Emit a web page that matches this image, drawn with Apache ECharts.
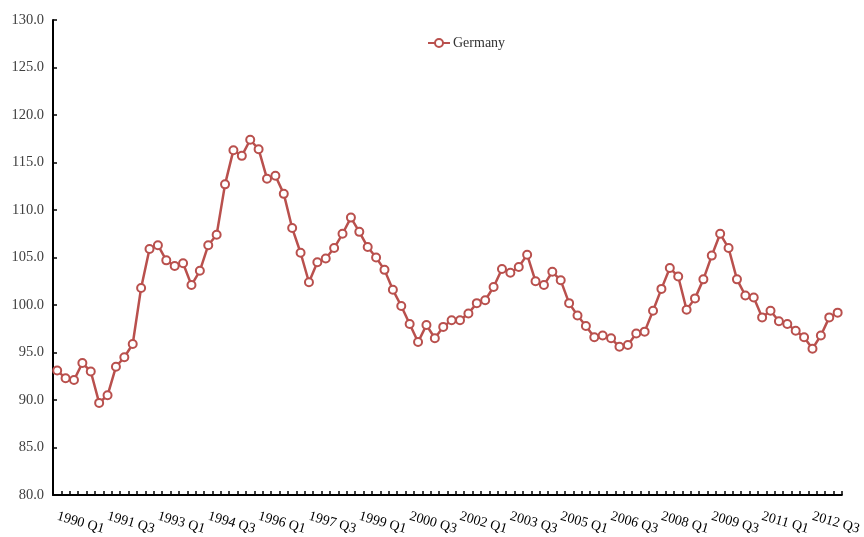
<!DOCTYPE html>
<html>
<head>
<meta charset="utf-8">
<script src="https://cdn.jsdelivr.net/npm/echarts@6/dist/echarts.min.js"></script>
<style>
  html, body { margin: 0; padding: 0; background: #ffffff; }
  #chart { width: 864px; height: 537px; }
</style>
</head>
<body>
<div id="chart"></div>
<script>
// Quarterly categories, 1990 Q1 onwards
const firstYear = 1990;
const quarterCount = 94;
const quarters = [];
for (let i = 0; i < quarterCount; i++) {
  quarters.push((firstYear + Math.floor(i / 4)) + ' Q' + (i % 4 + 1));
}

// Index values for Germany, one per quarter
const germany = [
  93.1, 92.3, 92.1, 93.9, 93.0, 89.7, 90.5, 93.5, 94.5, 95.9,
  101.8, 105.9, 106.3, 104.7, 104.1, 104.4, 102.1, 103.6, 106.3, 107.4,
  112.7, 116.3, 115.7, 117.4, 116.4, 113.3, 113.6, 111.7, 108.1, 105.5,
  102.4, 104.5, 104.9, 106.0, 107.5, 109.2, 107.7, 106.1, 105.0, 103.7,
  101.6, 99.9, 98.0, 96.1, 97.9, 96.5, 97.7, 98.4, 98.4, 99.1,
  100.2, 100.5, 101.9, 103.8, 103.4, 104.0, 105.3, 102.5, 102.1, 103.5,
  102.6, 100.2, 98.9, 97.8, 96.6, 96.8, 96.5, 95.6, 95.8, 97.0,
  97.2, 99.4, 101.7, 103.9, 103.0, 99.5, 100.7, 102.7, 105.2, 107.5,
  106.0, 102.7, 101.0, 100.8, 98.7, 99.4, 98.3, 98.0, 97.3, 96.6,
  95.4, 96.8, 98.7, 99.2
];

// Value axis range and step
const yMin = 80;
const yMax = 130;
const yStep = 5;

const seriesName = 'Germany';
const lineColor = '#b9504d';
const serif = '"Liberation Serif", "Times New Roman", serif';

const chart = echarts.init(document.getElementById('chart'), null, { renderer: 'canvas' });

chart.setOption({
  animation: false,
  backgroundColor: '#ffffff',
  grid: { left: 53, right: 18, top: 20, bottom: 41, containLabel: false },
  legend: {
    data: [seriesName],
    left: 422,
    top: 31,
    itemWidth: 22,
    itemHeight: 10,
    itemGap: 4,
    textStyle: { fontFamily: serif, fontSize: 14, color: '#333333', padding: [0, 0, 0, -2] }
  },
  xAxis: {
    type: 'category',
    data: quarters,
    boundaryGap: true,
    axisLine: { lineStyle: { color: '#000000', width: 2 } },
    axisTick: { show: true, inside: true, length: 4, interval: 0, lineStyle: { color: '#000000', width: 1.5 } },
    axisLabel: {
      interval: 5,
      rotate: -16,
      margin: 21,
      fontFamily: serif,
      fontSize: 14,
      color: '#000000'
    },
    splitLine: { show: false }
  },
  yAxis: {
    type: 'value',
    min: yMin,
    max: yMax,
    interval: yStep,
    axisLine: { show: true, lineStyle: { color: '#000000', width: 2 } },
    axisTick: { show: true, inside: true, length: 4, lineStyle: { color: '#000000', width: 1.5 } },
    axisLabel: {
      formatter: v => v.toFixed(1),
      margin: 9,
      fontFamily: serif,
      fontSize: 14.5,
      color: '#404040'
    },
    splitLine: { show: false }
  },
  series: [{
    name: seriesName,
    type: 'line',
    data: germany,
    showAllSymbol: true,
    symbol: 'emptyCircle',
    symbolSize: 8,
    lineStyle: { color: lineColor, width: 2.5 },
    itemStyle: { color: lineColor, borderColor: lineColor, borderWidth: 2 }
  }]
});
</script>
</body>
</html>
